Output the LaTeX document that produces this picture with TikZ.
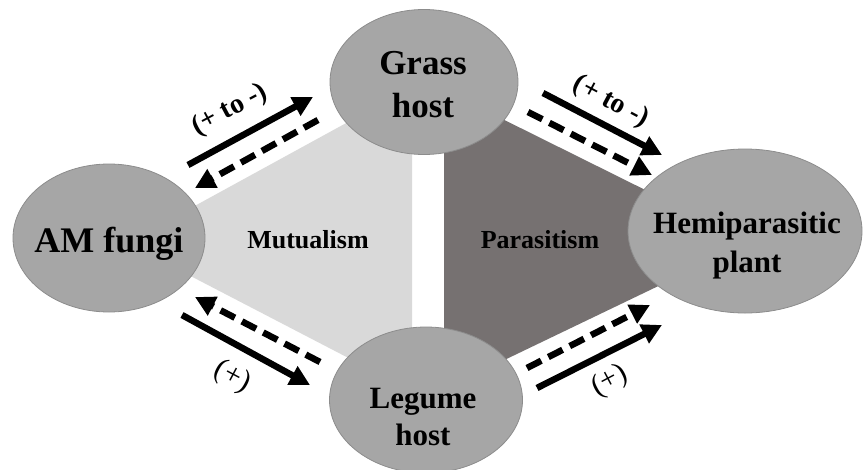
\documentclass[tikz,border=0pt]{standalone}
\usepackage{fontspec}
\setmainfont{Liberation Serif}
\usetikzlibrary{shapes.geometric,arrows.meta}
\definecolor{ellfill}{HTML}{A6A6A6}
\definecolor{elldraw}{HTML}{8C8C8C}
\definecolor{mutfill}{HTML}{D9D9D9}
\definecolor{parfill}{HTML}{767171}
\begin{document}
\begin{tikzpicture}[x=1pt,y=-1pt,
  org/.style={ellipse, fill=ellfill, draw=elldraw, line width=0.8pt, inner sep=0pt},
  orgtext/.style={anchor=base, inner sep=0pt, font=\bfseries},
  regiontext/.style={anchor=base, inner sep=0pt, font=\fontsize{26}{30}\selectfont\bfseries},
  solidarrow/.style={line width=6.5pt, -{Triangle[length=20pt,width=20pt]}},
  dasharrow/.style={solidarrow, dash pattern=on 16pt off 8pt},
  lblbold/.style={inner sep=0pt, font=\fontsize{28}{30}\selectfont\bfseries},
  lblplain/.style={inner sep=0pt, font=\fontsize{30}{32}\selectfont}]
\useasboundingbox (0,0) rectangle (864,469);
% regions
\fill[mutfill] (127,243) -- (412,87) -- (412,391) -- cycle;
\fill[parfill] (444,90) -- (750,242) -- (444,389) -- cycle;
% ellipses
\node[org, minimum width=192pt, minimum height=148pt] (am) at (109,238) {};
\node[org, minimum width=188pt, minimum height=145pt] (grass) at (424,82) {};
\node[org, minimum width=193pt, minimum height=146pt] (legume) at (426,400) {};
\node[org, minimum width=234pt, minimum height=164pt] (hemi) at (745,231) {};
% texts
\node[orgtext, font=\fontsize{36}{43}\selectfont\bfseries] (amT) at (109,252) {AM fungi};
\node[orgtext, font=\fontsize{35}{42}\selectfont\bfseries] (grassT1) at (423,74) {Grass};
\node[orgtext, font=\fontsize{35}{42}\selectfont\bfseries] (grassT2) at (423,117) {host};
\node[orgtext, font=\fontsize{31}{37}\selectfont\bfseries] (legT1) at (423,408) {Legume};
\node[orgtext, font=\fontsize{31}{37}\selectfont\bfseries] (legT2) at (423,445) {host};
\node[orgtext, font=\fontsize{31}{37}\selectfont\bfseries] (hemiT1) at (747,233) {Hemiparasitic};
\node[orgtext, font=\fontsize{31}{37}\selectfont\bfseries] (hemiT2) at (747,272) {plant};
\node[regiontext] (mut) at (308,248) {Mutualism};
\node[regiontext] (par) at (540,248) {Parasitism};
% arrow end points
\coordinate (a1s) at (188,165); \coordinate (a1e) at (313,97);
\coordinate (a2s) at (318,120); \coordinate (a2e) at (195,188);
\coordinate (b1s) at (543,93);  \coordinate (b1e) at (662,155);
\coordinate (b2s) at (528,112); \coordinate (b2e) at (652,175);
\coordinate (c1s) at (320,362); \coordinate (c1e) at (195,297);
\coordinate (c2s) at (182,315); \coordinate (c2e) at (310,385);
\coordinate (d1s) at (527,368); \coordinate (d1e) at (650,305);
\coordinate (d2s) at (537,388); \coordinate (d2e) at (662,325);
% arrows
\draw[solidarrow] (a1s) -- (a1e);
\draw[dasharrow] (a2s) -- (a2e);
\draw[solidarrow] (b1s) -- (b1e);
\draw[dasharrow] (b2s) -- (b2e);
\draw[dasharrow] (c1s) -- (c1e);
\draw[solidarrow] (c2s) -- (c2e);
\draw[dasharrow] (d1s) -- (d1e);
\draw[solidarrow] (d2s) -- (d2e);
% labels
\node[lblbold, rotate=28] (lab1) at (230,110) {(+ to -)};
\node[lblbold, rotate=-28] (lab2) at (611,102) {(+ to -)};
\node[lblplain, rotate=-28] (lab3) at (232,377) {(+)};
\node[lblplain, rotate=28] (lab4) at (610,381) {(+)};
\end{tikzpicture}
\end{document}
